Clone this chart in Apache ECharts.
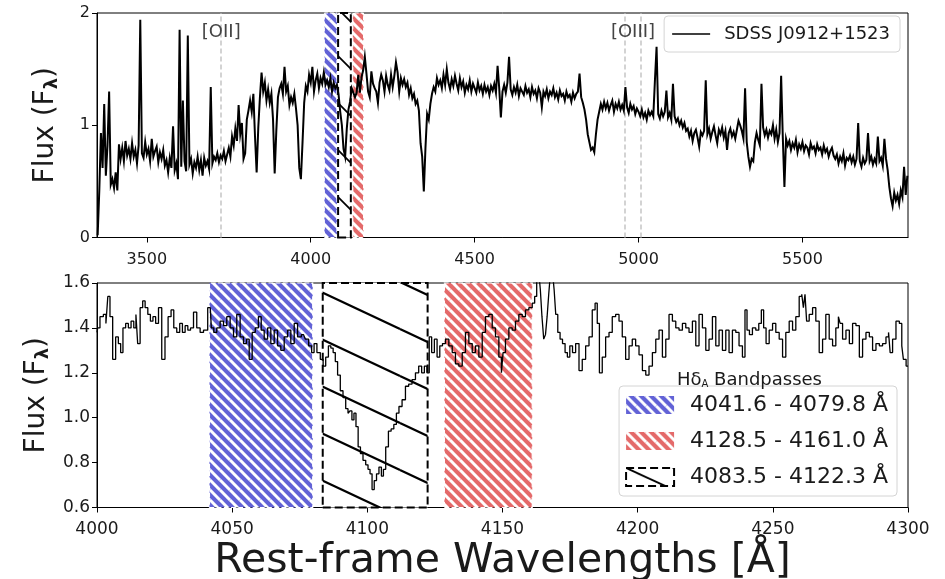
<!DOCTYPE html>
<html><head><meta charset="utf-8">
<script src="https://cdn.jsdelivr.net/npm/echarts@6/dist/echarts.min.js"></script>
<style>html,body{margin:0;padding:0;background:#fff}#c{width:945px;height:579px}</style>
</head><body><div id="c"></div>
<script>
// ---------- data ----------
const topStart = 3350, topStep = 5;
const topFlux = [
0.02,0.42,0.93,0.62,1.19,0.55,0.82,1.30,0.47,0.52,
0.44,0.58,0.42,0.83,0.70,0.80,0.68,0.86,0.73,0.79,
0.70,0.84,0.72,0.78,0.66,0.82,1.94,0.75,0.71,0.85,
0.74,0.79,0.68,0.88,0.72,0.77,0.81,0.67,0.76,0.70,
0.78,0.64,0.69,0.58,0.71,0.62,0.99,0.60,0.66,0.52,
1.85,0.63,1.22,0.68,0.59,1.80,0.65,0.70,0.57,0.67,
0.62,0.72,0.60,0.69,0.55,0.71,0.64,0.68,0.61,1.34,
0.66,0.72,0.69,0.75,0.67,0.73,0.70,0.77,0.68,0.74,
0.80,0.72,0.90,0.82,0.97,0.86,1.18,0.92,1.02,0.70,
0.75,1.05,1.13,1.22,1.12,1.28,0.90,0.58,0.98,1.25,
1.47,1.30,1.38,1.22,1.32,1.20,1.28,1.05,0.57,0.95,
1.25,1.33,1.37,1.28,1.52,1.30,1.35,1.18,1.25,1.20,
1.28,1.15,1.00,0.62,0.52,0.85,1.20,1.35,1.30,1.45,
1.38,1.52,1.30,1.40,1.46,1.33,1.42,1.37,1.47,1.36,
1.40,1.34,1.42,1.30,1.38,1.33,1.36,1.27,1.12,1.00,
0.79,0.72,0.97,1.14,1.21,1.33,1.32,1.25,1.29,1.45,
1.29,1.43,1.49,1.61,1.46,1.30,1.25,1.48,1.37,1.33,
1.30,1.20,1.38,1.45,1.40,1.30,1.44,1.36,1.31,1.45,
1.34,1.44,1.56,1.47,1.30,1.42,1.36,1.41,1.34,1.38,
1.27,1.33,1.24,1.28,1.19,1.22,1.13,0.84,0.72,0.41,
0.80,1.10,1.05,1.19,1.28,1.34,1.30,1.42,1.36,1.40,
1.33,1.45,1.36,1.50,1.38,1.32,1.41,1.35,1.44,1.37,
1.31,1.42,1.34,1.39,1.29,1.36,1.32,1.40,1.30,1.37,
1.33,1.29,1.38,1.31,1.35,1.28,1.36,1.30,1.34,1.27,
1.35,1.31,1.37,1.29,1.53,1.33,1.07,1.30,1.36,1.29,
1.38,1.61,1.32,1.27,1.34,1.29,1.36,1.26,1.33,1.30,
1.27,1.35,1.29,1.32,1.25,1.34,1.28,1.31,1.24,1.33,
1.29,1.16,1.30,1.26,1.32,1.24,1.30,1.27,1.33,1.25,
1.29,1.23,1.31,1.26,1.28,1.22,1.30,1.25,1.27,1.21,
1.29,1.24,1.28,1.30,1.46,1.25,1.20,1.14,1.05,0.92,
0.85,0.78,0.80,0.76,0.92,1.05,1.12,1.19,1.14,1.21,
1.15,1.20,1.13,1.18,1.22,1.12,1.19,1.15,1.21,1.14,
1.18,1.13,1.34,1.16,1.11,1.19,1.14,1.17,1.10,1.15,
1.12,1.08,1.14,1.07,1.11,1.05,1.13,1.09,1.12,1.08,
1.40,1.70,1.10,1.06,1.13,1.08,1.12,1.31,1.07,1.11,
1.05,1.37,1.08,1.03,1.06,1.00,1.04,0.98,1.02,0.95,
0.97,0.90,0.95,0.86,0.93,0.96,0.89,0.81,0.94,0.91,
0.95,1.40,0.92,0.97,0.88,0.94,0.99,0.91,0.84,0.96,
0.92,0.98,0.89,0.95,0.78,0.93,0.97,0.90,0.94,0.88,
0.96,1.04,1.00,0.95,0.88,1.33,0.85,0.72,0.63,0.70,
0.68,0.85,0.93,0.87,0.82,1.37,0.98,0.91,0.96,0.89,
0.95,0.92,1.00,0.88,0.96,0.85,0.93,1.44,0.90,0.45,
0.88,0.82,0.86,0.78,0.84,0.80,0.87,0.76,0.83,0.79,
0.85,0.77,0.82,0.80,0.74,0.84,0.79,0.81,0.75,0.83,
0.78,0.80,0.74,0.82,0.76,0.79,0.72,0.77,0.80,0.73,
0.70,0.74,0.66,0.72,0.68,0.75,0.64,0.71,0.69,0.73,
0.67,0.72,0.65,0.70,1.02,0.68,0.63,0.71,0.66,0.69,
0.93,0.68,0.72,0.65,0.70,0.66,0.90,0.68,0.71,0.64,
0.88,0.70,0.60,0.45,0.35,0.28,0.40,0.33,0.38,0.30,
0.42,0.36,0.63,0.38,0.55
];
const zoomSpec = [
[4000,1.38],[4000.5,1.40],[4001.7,1.45],[4003.0,1.46],[4003.6,1.42],[4004.4,1.54],[4005.2,1.45],[4006.4,1.26],[4007.4,1.36],[4008.4,1.33],[4009.1,1.29],[4010.1,1.40],[4011.1,1.42],[4012.1,1.40],[4013.1,1.43],[4014.1,1.40],[4014.7,1.46],[4015.4,1.33],[4016.5,1.49],[4017.3,1.52],[4018.3,1.49],[4019.3,1.46],[4020.2,1.43],[4021.2,1.45],[4022.2,1.42],[4023.3,1.49],[4024.6,1.26],[4025.7,1.36],[4026.9,1.45],[4027.9,1.48],[4028.9,1.40],[4030.1,1.38],[4031.1,1.42],[4032.1,1.38],[4033.1,1.41],[4034.1,1.39],[4035.1,1.40],[4036.3,1.47],[4037.5,1.40],[4038.8,1.38],[4040.0,1.39],[4041.9,1.49],[4042.7,1.40],[4043.7,1.38],[4044.9,1.40],[4046.2,1.43],[4047.4,1.41],[4048.6,1.45],[4049.9,1.40],[4051.1,1.36],[4052.3,1.46],[4053.6,1.36],[4054.8,1.33],[4055.8,1.35],[4056.8,1.26],[4058.0,1.38],[4059.1,1.40],[4060.3,1.45],[4061.2,1.39],[4062.5,1.35],[4063.7,1.40],[4064.9,1.33],[4066.2,1.39],[4067.4,1.32],[4068.6,1.30],[4069.9,1.36],[4071.1,1.39],[4072.3,1.33],[4073.6,1.42],[4074.8,1.36],
[4076.4,1.37],[4077.7,1.35],[4078.9,1.32],[4079.9,1.29],[4080.7,1.33],[4082.0,1.29],[4083.2,1.26],[4084.1,1.23],[4085.1,1.27],[4086.1,1.32],[4086.9,1.31],[4087.8,1.29],[4088.5,1.25],[4089.5,1.19],[4090.5,1.12],[4091.5,1.09],[4092.5,1.04],[4093.2,1.02],[4093.9,1.03],[4094.7,0.99],[4095.4,1.02],[4096.2,0.96],[4097.0,0.87],[4097.9,0.84],[4098.9,0.81],[4099.9,0.79],[4100.6,0.77],[4101.4,0.75],[4102.1,0.68],[4103.0,0.72],[4103.8,0.75],[4104.8,0.78],[4105.6,0.74],[4106.3,0.77],[4107.3,0.87],[4108.3,0.94],[4109.3,0.95],[4110.3,0.97],[4111.2,1.02],[4112.2,1.05],[4113.5,1.08],[4114.7,1.14],[4115.9,1.15],[4117.2,1.17],[4118.4,1.20],[4119.6,1.23],[4120.6,1.20],[4121.6,1.23],[4122.5,1.20],[4123.3,1.36],[4124.3,1.29],[4125.3,1.35],[4126.3,1.27],[4127.3,1.32],[4128.3,1.33],[4129.5,1.35],[4130.8,1.32],[4132.0,1.29],[4133.2,1.24],[4134.5,1.23],[4135.7,1.29],[4136.9,1.38],[4138.2,1.33],[4139.4,1.29],[4140.6,1.32],[4141.9,1.27],[4143.1,1.38],[4144.3,1.45],[4145.6,1.46],[4146.8,1.40],[4148.0,1.36],[4149.3,1.27],[4149.9,1.20],
[4150.5,1.29],[4151.7,1.35],[4153.0,1.40],[4154.2,1.39],[4155.4,1.43],[4156.7,1.46],[4157.9,1.45],[4159.1,1.48],[4160.4,1.49],[4161.6,1.51],[4162.2,1.54],[4163.1,1.63],[4163.7,1.65],[4164.3,1.57],[4164.9,1.45],[4165.6,1.35],[4166.2,1.37],[4166.8,1.45],[4167.4,1.55],[4168.0,1.64],[4168.8,1.66],[4169.4,1.57],[4170.0,1.46],[4170.9,1.38],[4171.7,1.35],[4172.7,1.33],[4173.6,1.29],[4174.4,1.27],[4175.4,1.32],[4176.4,1.29],[4177.7,1.33],[4178.9,1.21],[4180.1,1.26],[4181.4,1.32],[4182.6,1.36],[4183.8,1.48],[4184.7,1.51],[4185.4,1.42],[4186.3,1.20],[4187.5,1.27],[4188.8,1.36],[4190.0,1.38],[4191.2,1.45],[4192.5,1.46],[4193.7,1.43],[4194.9,1.36],[4196.2,1.26],[4197.4,1.32],[4198.6,1.35],[4199.9,1.32],[4201.1,1.28],[4202.4,1.21],[4203.6,1.19],[4204.8,1.23],[4206.1,1.29],[4207.3,1.35],[4208.5,1.39],[4209.8,1.27],[4211.0,1.35],[4212.2,1.46],[4213.5,1.43],[4214.7,1.40],[4215.9,1.39],[4217.2,1.42],[4218.4,1.40],[4219.6,1.38],[4220.9,1.43],[4222.1,1.32],[4223.3,1.46],[4224.6,1.40],[4225.8,1.30],
[4227.0,1.35],[4228.3,1.45],[4229.5,1.32],[4230.7,1.39],[4232.0,1.30],[4233.2,1.39],[4234.4,1.29],[4235.7,1.39],[4236.9,1.38],[4238.1,1.32],[4239.4,1.27],[4240.0,1.48],[4240.9,1.39],[4241.8,1.37],[4243.1,1.40],[4244.3,1.39],[4245.3,1.42],[4246.2,1.48],[4247.0,1.40],[4248.0,1.33],[4249.3,1.39],[4250.5,1.42],[4251.7,1.38],[4253.0,1.35],[4254.2,1.27],[4255.4,1.38],[4256.7,1.43],[4257.9,1.39],[4259.1,1.45],[4260.4,1.54],[4261.0,1.55],[4261.6,1.49],[4262.2,1.55],[4262.8,1.43],[4264.1,1.46],[4265.3,1.49],[4266.5,1.43],[4267.8,1.29],[4269.0,1.35],[4270.2,1.46],[4271.5,1.35],[4272.7,1.32],[4273.9,1.40],[4274.6,1.45],[4275.2,1.42],[4276.4,1.35],[4277.7,1.39],[4278.9,1.33],[4280.1,1.42],[4281.4,1.41],[4282.6,1.27],[4283.8,1.35],[4285.1,1.38],[4286.3,1.36],[4287.5,1.30],[4288.8,1.33],[4290.0,1.32],[4291.2,1.33],[4292.5,1.36],[4293.1,1.38],[4293.7,1.29],[4294.9,1.35],[4296.2,1.43],[4297.4,1.42],[4298.0,1.32],[4298.6,1.26],[4300.0,1.23]
];
const bandNames = ['4041.6 - 4079.8 Å', '4128.5 - 4161.0 Å', '4083.5 - 4122.3 Å'];
const bandFrom = [4041.6, 4128.5, 4083.5];
const bandTo = [4079.8, 4161.0, 4122.3];
const emissionWaves = [3727, 4959, 5007];
const emissionLabels = ['[OII]', '[OIII]'];
const emissionLabelWaves = [3727, 4983];
const topXTicks = [3500, 4000, 4500, 5000, 5500];
const topYTicks = [0, 1, 2];
const botXTicks = [4000, 4050, 4100, 4150, 4200, 4250, 4300];
const botYTicks = [0.6, 0.8, 1.0, 1.2, 1.4, 1.6];

// ---------- styling helpers ----------
function hatch(bg, fg, w, h, lw) {
  const c = document.createElement('canvas');
  c.width = w; c.height = h;
  const g = c.getContext('2d');
  if (bg) { g.fillStyle = bg; g.fillRect(0, 0, w, h); }
  g.strokeStyle = fg; g.lineWidth = lw;
  [[0,0],[-w,0],[w,0],[0,-h],[0,h]].forEach(([dx,dy]) => {
    g.beginPath(); g.moveTo(dx, dy); g.lineTo(dx + w, dy + h); g.stroke();
  });
  return { image: c, repeat: 'repeat' };
}
const blueFill = hatch('#6262d6', '#ffffff', 10, 10, 3);
const redFill = hatch('#e46a6a', '#ffffff', 10, 10, 3);
const blackFillBot = hatch('#ffffff', '#000000', 100, 47, 2.2);
const blackFillTop = hatch('#ffffff', '#000000', 47, 47, 1.8);
const blackFillLegend = hatch('#ffffff', '#000000', 48, 22, 2);
const bandStylesBot = [
  { color: blueFill, borderColor: '#ffffff', borderWidth: 1.2, borderType: 'dashed', opacity: 1 },
  { color: redFill, borderColor: '#ffffff', borderWidth: 1.2, borderType: 'dashed', opacity: 1 },
  { color: blackFillBot, borderColor: '#000000', borderWidth: 2, borderType: 'dashed', opacity: 1 }
];
const bandStylesTop = [
  { color: blueFill, borderColor: '#ffffff', borderWidth: 1, borderType: 'dashed', opacity: 1 },
  { color: redFill, borderColor: '#ffffff', borderWidth: 1, borderType: 'dashed', opacity: 1 },
  { color: blackFillTop, borderColor: '#000000', borderWidth: 2, borderType: 'dashed', opacity: 1 }
];
const legendIconStyles = [
  { color: blueFill, borderColor: '#6262d6', borderWidth: 0 },
  { color: redFill, borderColor: '#e46a6a', borderWidth: 0 },
  { color: blackFillLegend, borderColor: '#000', borderWidth: 2, borderType: 'dashed' }
];

const FONT = 'DejaVu Sans';
const txt = '#1a1a1a';

const chart = echarts.init(document.getElementById('c'), null, { renderer: 'canvas' });

const series = [];
// bottom bands
bandNames.forEach((nm, i) => {
  series.push({
    type: 'line', name: nm, xAxisIndex: 1, yAxisIndex: 1, data: [], z: 1,
    symbol: 'none', lineStyle: { width: 0 },
    markArea: { silent: true, data: [[{ xAxis: bandFrom[i], itemStyle: bandStylesBot[i] }, { xAxis: bandTo[i] }]] }
  });
});
// top bands + emission lines
series.push({
  type: 'line', name: 'topBands', xAxisIndex: 0, yAxisIndex: 0, data: [], z: 1,
  symbol: 'none', lineStyle: { width: 0 },
  markArea: { silent: true, data: bandNames.map((nm, i) => [{ xAxis: bandFrom[i], itemStyle: bandStylesTop[i] }, { xAxis: bandTo[i] }]) },
  markLine: {
    silent: true, symbol: 'none', label: { show: false },
    lineStyle: { color: '#cfcfcf', type: [5, 3], width: 1.8 },
    data: emissionWaves.map(w => ({ xAxis: w }))
  },
  markPoint: {
    silent: true, symbol: 'rect', symbolSize: 1, itemStyle: { color: 'rgba(0,0,0,0)' },
    label: { show: true, position: 'inside', formatter: '{b}', color: '#444', fontSize: 18, fontFamily: FONT },
    data: emissionLabels.map((t, i) => ({ name: t, coord: [emissionLabelWaves[i], 1.83] }))
  }
});
series.push({
  type: 'line', name: 'SDSS J0912+1523', xAxisIndex: 0, yAxisIndex: 0, z: 5,
  data: topFlux.map((f, i) => [topStart + i * topStep, f]),
  showSymbol: false, symbol: 'none',
  lineStyle: { color: '#000', width: 2, join: 'miter' }, itemStyle: { color: '#000' }
});
series.push({
  type: 'line', name: 'zoom', xAxisIndex: 1, yAxisIndex: 1, z: 5,
  data: zoomSpec, showSymbol: false, symbol: 'none', step: 'middle',
  lineStyle: { color: '#000', width: 1.3 }, itemStyle: { color: '#000' }
});

function xAxisBase(grid, min, max, ticks, fs) {
  return {
    type: 'value', gridIndex: grid, min: min, max: max,
    axisLine: { show: true, onZero: false, lineStyle: { color: '#000', width: 1 } },
    axisTick: { show: true, customValues: ticks, length: 5, lineStyle: { color: '#000' } },
    axisLabel: { customValues: ticks, color: txt, fontSize: fs, fontFamily: FONT, margin: 14, formatter: v => String(v) },
    splitLine: { show: false }
  };
}
function yAxisBase(grid, min, max, ticks, fs, fmt) {
  return {
    type: 'value', gridIndex: grid, min: min, max: max,
    axisLine: { show: true, onZero: false, lineStyle: { color: '#000', width: 1 } },
    axisTick: { show: true, customValues: ticks, length: 5, lineStyle: { color: '#000' } },
    axisLabel: { customValues: ticks, color: txt, fontSize: fs, fontFamily: FONT, margin: 7, formatter: fmt },
    splitLine: { show: false },
    name: '{a|Flux (F}{b|λ}{a|)}', nameLocation: 'middle', nameGap: 36, nameRotate: 90,
    nameTextStyle: { rich: {
      a: { fontSize: 28, color: txt, fontFamily: FONT },
      b: { fontSize: 18, color: txt, fontFamily: FONT, fontWeight: 'bold', padding: [12, 0, 0, 0] }
    } }
  };
}

const xTop = xAxisBase(0, 3348, 5822, topXTicks, 16);
const xBot = xAxisBase(1, 4000, 4300, botXTicks, 17);
xBot.name = 'Rest-frame Wavelengths [Å]';
xBot.nameLocation = 'middle';
xBot.nameGap = 33;
xBot.nameTextStyle = { fontSize: 41, color: txt, fontFamily: FONT };
const yTop = yAxisBase(0, 0, 2, topYTicks, 16, v => String(v));
const yBot = yAxisBase(1, 0.6, 1.6, botYTicks, 17, v => v.toFixed(1));

chart.setOption({
  animation: false,
  backgroundColor: '#fff',
  textStyle: { fontFamily: FONT },
  grid: [
    { left: 97, top: 13, width: 811, height: 224.5, outerBoundsMode: 'none', show: true, borderColor: '#000', borderWidth: 1, backgroundColor: 'transparent' },
    { left: 97, top: 283, width: 811, height: 224.5, outerBoundsMode: 'none', show: true, borderColor: '#000', borderWidth: 1, backgroundColor: 'transparent' }
  ],
  title: {
    text: '{a|Hδ}{s|A}{a| Bandpasses}', left: 672, top: 366,
    textStyle: { fontWeight: 'normal', rich: {
      a: { fontSize: 18, color: txt, fontFamily: FONT, fontWeight: 'normal' },
      s: { fontSize: 10, color: txt, fontFamily: FONT, fontWeight: 'normal', padding: [8, 0, 0, 0] }
    } }
  },
  legend: [
    {
      data: [{ name: 'SDSS J0912+1523', icon: 'rect', itemStyle: { color: '#000' } }],
      right: 45, top: 16, orient: 'horizontal', selectedMode: false,
      itemWidth: 38, itemHeight: 1.5, padding: [9, 10, 9, 8], borderColor: '#d4d4d4', borderWidth: 1, borderRadius: 4,
      backgroundColor: '#ffffff', textStyle: { fontSize: 18, color: txt, fontFamily: FONT, padding: [0, 0, 0, 9] }
    },
    {
      data: bandNames.map((nm, i) => ({ name: nm, icon: 'rect', itemStyle: legendIconStyles[i] })),
      right: 48, top: 386, orient: 'vertical', selectedMode: false,
      itemWidth: 48, itemHeight: 18, itemGap: 14, padding: [8, 9, 8, 6],
      borderColor: '#d4d4d4', borderWidth: 1, borderRadius: 4, backgroundColor: '#ffffff',
      textStyle: { fontSize: 22, color: txt, fontFamily: FONT, padding: [0, 0, 0, 11] }
    }
  ],
  xAxis: [xTop, xBot],
  yAxis: [yTop, yBot],
  series: series
});
</script>
</body></html>
